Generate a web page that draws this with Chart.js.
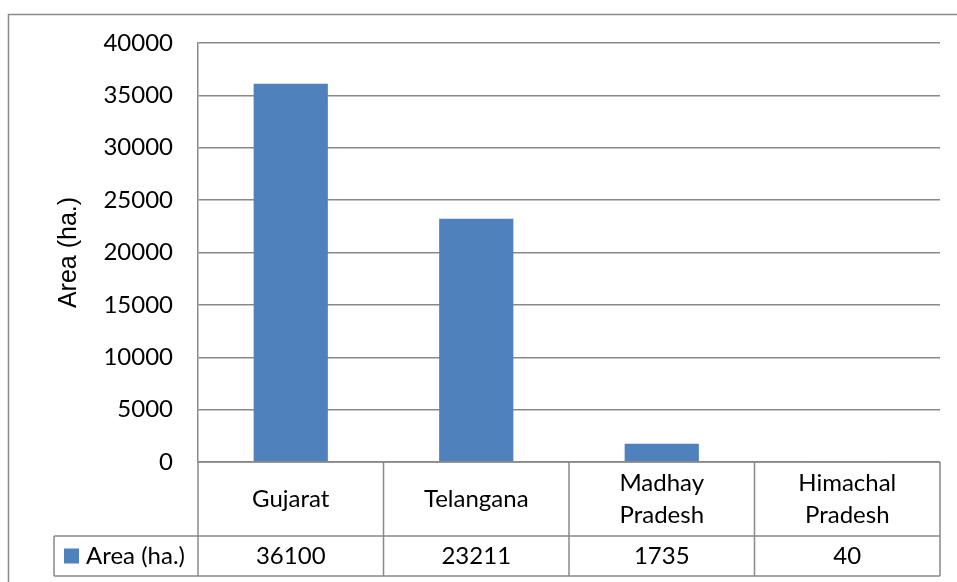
<!DOCTYPE html>
<html>
<head>
<meta charset="utf-8">
<script src="https://cdn.jsdelivr.net/npm/chart.js@4"></script>
<style>
  html, body { margin: 0; padding: 0; background: #fff; }
  #wrap { width: 957px; height: 582px; }
</style>
</head>
<body>
<div id="wrap"><canvas id="areaChart" width="957" height="582"></canvas></div>
<script>
// data
const categories = [['Gujarat'], ['Telangana'], ['Madhay', 'Pradesh'], ['Himachal', 'Pradesh']];
const areaValues = [36100, 23211, 1735, 40];
const seriesName = 'Area (ha.)';
const yMin = 0;
const yMax = 40000;
const yStep = 5000;

const BAR_COLOR = '#4F81BD';
const LINE_COLOR = '#898989';
const FONT = "Lato, 'Open Sans', sans-serif";

// frame around the whole chart + the data table under the plot
const dataTable = {
  id: 'dataTable',
  beforeDraw(chart) {
    const ctx = chart.ctx;
    ctx.save();
    ctx.strokeStyle = LINE_COLOR;
    ctx.lineWidth = 1.5;
    ctx.strokeRect(8.5, 14.5, 1100, 1100);
    ctx.restore();
  },
  afterDraw(chart) {
    const ctx = chart.ctx;
    const x = chart.scales.x;
    const area = chart.chartArea;
    const n = categories.length;
    const step = (area.right - area.left) / n;
    const top = area.bottom;
    const mid = top + 74;
    const bot = mid + 40;
    const legLeft = 54;

    ctx.save();
    ctx.strokeStyle = LINE_COLOR;
    ctx.lineWidth = 1.5;
    ctx.beginPath();
    ctx.moveTo(area.left, top); ctx.lineTo(area.right, top);
    ctx.moveTo(legLeft, mid); ctx.lineTo(area.right, mid);
    ctx.moveTo(legLeft, bot); ctx.lineTo(area.right, bot);
    ctx.moveTo(legLeft, mid); ctx.lineTo(legLeft, bot);
    for (let i = 0; i <= n; i++) {
      const px = x.getPixelForValue(i) - step / 2;
      ctx.moveTo(px, top); ctx.lineTo(px, bot);
    }
    ctx.stroke();

    ctx.fillStyle = '#000';
    ctx.font = '24px ' + FONT;
    ctx.textAlign = 'center';
    ctx.textBaseline = 'middle';
    const lineH = 32;
    categories.forEach((lines, i) => {
      const cx = x.getPixelForValue(i);
      const cy = (top + mid) / 2;
      const y0 = cy - (lines.length - 1) * lineH / 2;
      lines.forEach((t, j) => ctx.fillText(t, cx, y0 + j * lineH));
      ctx.fillText(String(areaValues[i]), cx, (mid + bot) / 2);
    });

    // legend key inside the table
    const ly = (mid + bot) / 2;
    ctx.fillStyle = BAR_COLOR;
    ctx.fillRect(64, ly - 7.5, 15, 15);
    ctx.fillStyle = '#000';
    ctx.textAlign = 'left';
    ctx.fillText(seriesName, 86, ly);
    ctx.restore();
  }
};

new Chart(document.getElementById('areaChart'), {
  type: 'bar',
  data: {
    labels: categories,
    datasets: [{
      label: seriesName,
      data: areaValues,
      backgroundColor: BAR_COLOR,
      borderWidth: 0,
      categoryPercentage: 1,
      barPercentage: 0.4
    }]
  },
  options: {
    responsive: false,
    animation: false,
    layout: { padding: { left: 0, top: 43, right: 17, bottom: 120 } },
    plugins: {
      legend: { display: false },
      tooltip: { enabled: false }
    },
    scales: {
      x: { display: false },
      y: {
        min: yMin,
        max: yMax,
        afterFit(scale) { scale.width = 198; },
        ticks: {
          stepSize: yStep,
          color: '#000',
          padding: 25,
          font: { family: FONT, size: 24 },
          callback: (v) => String(v)
        },
        grid: { color: LINE_COLOR, lineWidth: 1.5, drawTicks: false },
        border: { display: true, color: LINE_COLOR, width: 1.5 },
        title: {
          display: true,
          text: seriesName,
          color: '#000',
          font: { family: "'Liberation Sans', Arial, sans-serif", size: 25 },
          padding: { top: 54, bottom: 0 }
        }
      }
    }
  },
  plugins: [dataTable]
});
</script>
</body>
</html>
